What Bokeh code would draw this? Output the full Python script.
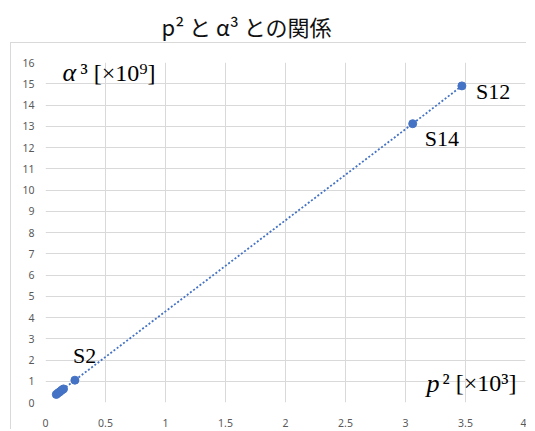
from bokeh.plotting import figure
from bokeh.models import ColumnDataSource, FixedTicker, NumeralTickFormatter, Label, Range1d, Title
from bokeh.embed import file_html
from bokeh.resources import INLINE

# ---- data ----
p2_values = [0.09, 0.105, 0.12, 0.135, 0.15, 0.245, 3.06, 3.47]   # p^2 [x10^3]
a3_values = [0.38, 0.45, 0.51, 0.58, 0.64, 1.05, 13.12, 14.90]   # alpha^3 [x10^9]
label_names = ["S2", "S14", "S12"]
label_p2 = [0.245, 3.06, 3.47]
label_a3 = [1.05, 13.12, 14.90]
x_ticks = [0, 0.5, 1, 1.5, 2, 2.5, 3, 3.5, 4]
y_ticks = list(range(0, 17))
title_text = "p² と α³ との関係"

# ---- styling / layout ----
BLUE = "#4472C4"
GRID = "#d9d9d9"
TICK = "#595959"
SERIF = "Liberation Serif"

# chart-area border (top and left edges) drawn as a CSS background behind the canvas
border_css = {
    "background-color": "white",
    "background-image": f"linear-gradient({GRID},{GRID}), linear-gradient({GRID},{GRID})",
    "background-size": "100% 1px, 1px 100%",
    "background-position": "10px 42px, 10px 42px",
    "background-repeat": "no-repeat",
}

p = figure(width=526, height=429,
           min_border_left=45, min_border_right=1, min_border_top=62, min_border_bottom=25,
           x_range=Range1d(0, 4), y_range=Range1d(0, 16),
           output_backend="svg", toolbar_location=None, tools="",
           styles=border_css)
p.outline_line_color = None
p.background_fill_color = "white"
p.border_fill_alpha = 0.0
p.title.text = ""

# spacer panel next to the frame, then the chart title above it
p.add_layout(Title(text=" ", text_font_size="8px", standoff=6), "above")
p.add_layout(Title(text=title_text, text_font="Noto Sans CJK JP", text_font_size="22px",
                   text_font_style="normal", text_color="#111111", align="left",
                   vertical_align="bottom", offset=116, standoff=8), "above")

for ax in (p.xaxis[0], p.yaxis[0]):
    ax.axis_line_color = None
    ax.major_tick_line_color = None
    ax.minor_tick_line_color = None
    ax.major_label_text_color = TICK
    ax.major_label_text_font = "Noto Sans"
    ax.major_label_text_font_size = "10.5px"
p.xaxis[0].major_label_standoff = 10
p.yaxis[0].major_label_standoff = 5

p.xaxis[0].ticker = FixedTicker(ticks=x_ticks)
p.yaxis[0].ticker = FixedTicker(ticks=y_ticks)
p.xaxis[0].formatter = NumeralTickFormatter(format="0.[0]")
p.yaxis[0].formatter = NumeralTickFormatter(format="0")

p.xgrid[0].ticker = FixedTicker(ticks=x_ticks)
p.ygrid[0].ticker = FixedTicker(ticks=y_ticks)
p.xgrid[0].grid_line_color = GRID
p.ygrid[0].grid_line_color = GRID

src = ColumnDataSource(dict(x=p2_values, y=a3_values))
p.line("x", "y", source=src, line_color=BLUE, line_width=1.8, line_dash="2 2")
p.scatter("x", "y", source=src, size=8, fill_color=BLUE, line_color=BLUE)

lab_src = ColumnDataSource(dict(x=label_p2, y=label_a3, t=label_names,
                                dx=[-2, 12, 14], dy=[-25, 15, 6]))
p.text("x", "y", text="t", source=lab_src, x_offset="dx", y_offset="dy",
       text_font={"value": SERIF}, text_font_size={"value": "22px"},
       text_color="black", text_baseline="alphabetic", text_align="left")

# axis titles inside the plot
def add_math_label(x, y, xoff, sym, rest, sym_w):
    p.add_layout(Label(x=x, y=y, x_offset=xoff, text=sym, text_font=SERIF,
                       text_font_style="italic", text_font_size="26px",
                       text_color="black", text_baseline="alphabetic"))
    p.add_layout(Label(x=x, y=y, x_offset=xoff + sym_w, text=rest, text_font=SERIF,
                       text_font_size="24px", text_color="black",
                       text_baseline="alphabetic"))

add_math_label(0, 15.52, 17, "α", "³ [×10⁹]", 18)
add_math_label(4, 0.90, -99, "p", "² [×10³]", 16)

open("out.html", "w").write(file_html(p, INLINE))
